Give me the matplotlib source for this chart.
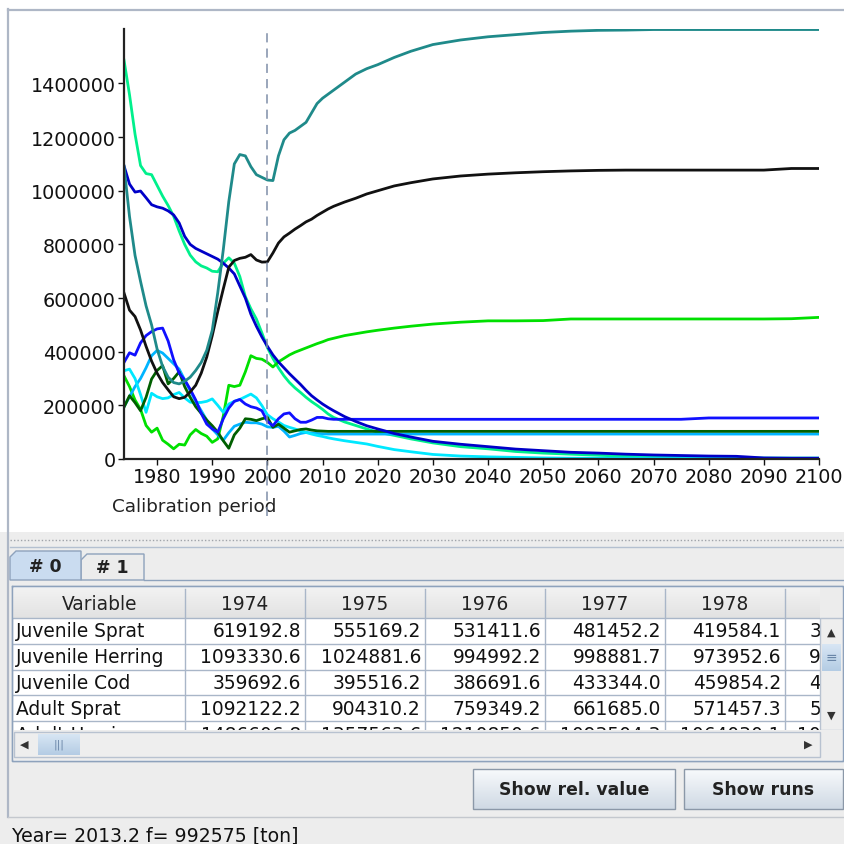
import matplotlib
matplotlib.use("Agg")
import matplotlib.pyplot as plt
import numpy as np
from matplotlib.patches import Rectangle, Polygon
from matplotlib.transforms import blended_transform_factory
from matplotlib.ticker import FixedLocator, FuncFormatter

plt.rcParams['font.family'] = ['DejaVu Sans']

# ---- chart data (thousand tons) ----
years = list(range(1974, 2013)) + [2014, 2016, 2018, 2020, 2023, 2026, 2030, 2035, 2040, 2045,
                                   2050, 2055, 2060, 2065, 2070, 2075, 2080, 2085, 2090, 2095, 2100]

adult_herring = [1487, 1358, 1211, 1094, 1064, 1060, 1020, 980, 945, 905,
                 850, 800, 760, 735, 720, 712, 700, 698, 730, 750,
                 730, 680, 605, 560, 522, 470, 415, 375, 340, 310,
                 285, 265, 248, 230, 214, 200, 185, 168, 155,
                 138, 125, 112, 100, 88, 75, 60, 46, 38, 28, 22, 18, 14, 10, 8, 6, 5, 4, 3, 3, 3]
adult_other = [310, 270, 220, 185, 125, 100, 115, 70, 55, 38,
               55, 52, 90, 110, 95, 85, 62, 75, 160, 275,
               270, 275, 325, 385, 375, 372, 360, 343, 362, 375,
               388, 398, 406, 414, 422, 430, 437, 445, 450,
               460, 467, 474, 480, 488, 495, 503, 510, 515, 515, 516, 522, 522, 522, 522, 522, 522, 522, 522, 523, 528]
series_sky = [195, 232, 270, 300, 340, 385, 405, 395, 375, 355,
              335, 295, 255, 215, 180, 145, 112, 90, 70, 98,
              122, 130, 137, 135, 135, 130, 120, 118, 122, 104,
              82, 88, 95, 99, 97, 95, 94, 93, 93] + [93] * 21
series_cyan = [329, 335, 300, 240, 174, 245, 232, 225, 228, 240,
               248, 228, 212, 210, 211, 215, 224, 200, 174, 205,
               215, 222, 232, 242, 228, 199, 165, 150, 138, 125,
               118, 112, 105, 99, 93, 88, 84, 79, 75,
               68, 62, 56, 47, 35, 27, 17, 11, 8, 6, 4, 3, 3, 3, 3, 3, 3, 3, 3, 3, 3]
series_dkgreen = [193, 236, 210, 180, 230, 298, 330, 348, 280, 300,
                  325, 270, 230, 195, 170, 145, 124, 100, 68, 40,
                  90, 115, 150, 148, 143, 150, 155, 118, 130, 115,
                  100, 105, 110, 112, 108, 105, 104, 103, 103] + [103] * 21
juv_cod = [360, 396, 387, 433, 460, 475, 485, 488, 440, 370,
           320, 295, 260, 220, 170, 130, 112, 100, 150, 190,
           215, 222, 205, 195, 190, 180, 140, 124, 150, 168,
           172, 150, 137, 137, 145, 155, 155, 150, 148] + [148] * 16 + [153] * 5
juv_herring = [1093, 1025, 995, 999, 974, 948, 940, 935, 925, 910,
               880, 830, 800, 785, 775, 765, 755, 745, 730, 712,
               690, 645, 600, 540, 495, 455, 420, 388, 362, 340,
               318, 298, 278, 256, 236, 220, 205, 192, 180,
               158, 140, 124, 112, 95, 82, 66, 55, 46, 37, 31, 25, 22, 18, 15, 13, 11, 10, 4, 3, 3]
juv_sprat = [619, 555, 531, 481, 420, 365, 320, 285, 258, 232,
             225, 230, 250, 275, 320, 380, 460, 550, 634, 715,
             740, 748, 752, 762, 742, 734, 735, 768, 805, 828,
             842, 857, 870, 884, 894, 908, 920, 932, 942,
             958, 972, 988, 1000, 1018, 1030, 1044, 1055, 1062, 1067, 1071, 1074, 1076, 1077,
             1077, 1077, 1077, 1077, 1077, 1083, 1083]
adult_sprat = [1092, 904, 759, 662, 571, 500, 410, 345, 305, 285,
               280, 290, 305, 330, 360, 405, 480, 620, 780, 960,
               1100, 1135, 1130, 1090, 1060, 1050, 1040, 1038, 1130, 1190,
               1215, 1225, 1240, 1255, 1290, 1325, 1345, 1360, 1375,
               1405, 1435, 1455, 1470, 1497, 1520, 1545, 1562, 1574, 1582, 1590, 1595, 1598, 1599,
               1601, 1601, 1601, 1601, 1601, 1601, 1601]

series = [adult_herring, adult_other, series_sky, series_cyan, series_dkgreen,
          juv_cod, juv_herring, juv_sprat, adult_sprat]
colors = ['#00f08c', '#00e000', '#00b4ff', '#00e8ff', '#005f00',
          '#1010ff', '#0000c8', '#111111', '#1f8a8a']

calibration_end = 2000
y_ticks = [0, 200000, 400000, 600000, 800000, 1000000, 1200000, 1400000]
x_ticks = list(range(1980, 2101, 10))

# ---- table data ----
table_cols = ['Variable', '1974', '1975', '1976', '1977', '1978', '1979']
table_rows = ['Juvenile Sprat', 'Juvenile Herring', 'Juvenile Cod', 'Adult Sprat', 'Adult Herring']
table_vals = [
    [619192.8, 555169.2, 531411.6, 481452.2, 419584.1, 365000.0],
    [1093330.6, 1024881.6, 994992.2, 998881.7, 973952.6, 948000.0],
    [359692.6, 395516.2, 386691.6, 433344.0, 459854.2, 475000.0],
    [1092122.2, 904310.2, 759349.2, 661685.0, 571457.3, 500000.0],
    [1486606.8, 1357563.6, 1210850.6, 1093504.3, 1064030.1, 1060000.0],
]
status_text = 'Year= 2013.2 f= 992575 [ton]'

W = 845
fig = plt.figure(figsize=(W / 100, W / 100), dpi=100)

# full-figure overlay in pixel coordinates for the surrounding UI
ui = fig.add_axes([0, 0, 1, 1])
ui.set_zorder(0)
ui.axis('off')


def box(x0, y0, x1, y1, fc, ec='none', lw=1.0, z=1):
    ui.add_patch(Rectangle((x0, y0), x1 - x0, y1 - y0, facecolor=fc, edgecolor=ec, lw=lw, zorder=z))


def gradient(x0, y0, x1, y1, c_top, c_bot, z=1):
    g = np.linspace(0, 1, 64)[:, None, None]
    top = np.array(matplotlib.colors.to_rgb(c_top))
    bot = np.array(matplotlib.colors.to_rgb(c_bot))
    img = top * (1 - g) + bot * g
    ui.imshow(img, extent=(x0, x1, y1, y0), aspect='auto', zorder=z, interpolation='bilinear')


# lower gray region and chart panel border
box(0, 533, W, W, '#ededed', z=0)
ui.plot([8, W], [10.5, 10.5], color='#aeb7c6', lw=1.6, zorder=2)
ui.plot([8.5, 8.5], [10, 818], color='#aeb7c6', lw=1.6, zorder=2)
ui.plot([10, W], [541, 541], color='#a0a4aa', lw=1, ls=(0, (1, 1.5)), zorder=2)
ui.plot([10, W], [548, 548], color='#b4c0d0', lw=1, zorder=2)

# tabs
ui.add_patch(Polygon([(10, 581), (10, 558), (16, 552), (81, 552), (81, 581)], closed=True,
                     facecolor='#cadcf0', edgecolor='#8ea2bc', lw=1, zorder=3))
ui.add_patch(Polygon([(81, 581), (81, 561), (87, 555), (144, 555), (144, 581)], closed=True,
                     facecolor='#ececec', edgecolor='#8ea2bc', lw=1, zorder=2))
ui.plot([144, W], [581, 581], color='#8ea2bc', lw=1, zorder=2)
ui.text(45, 567, '# 0', ha='center', va='center', fontsize=12.5, fontweight='bold', color='#222222', zorder=4)
ui.text(112, 568, '# 1', ha='center', va='center', fontsize=12.5, fontweight='bold', color='#222222', zorder=4)

# table
col_edges = [14, 185, 305, 425, 545, 665, 785, 902]
header_top, header_bot = 589, 619
row_h = 25.8
tfs = 13.4
box(12, 587, 843, 762, '#ffffff', ec='#8ea2bc', lw=1, z=1)
gradient(13, header_top, 820, header_bot, '#f2f2f2', '#e2e2e2', z=2)
for cx in col_edges[1:-1]:
    ui.plot([cx, cx], [header_top + 1, 731], color='#a9b6c8', lw=1, zorder=3)
ui.plot([13, 820], [header_bot, header_bot], color='#a9b6c8', lw=1, zorder=3)
for i, name in enumerate(table_cols):
    x0, x1 = col_edges[i], col_edges[i + 1]
    ui.text((x0 + x1) / 2, 605, name, ha='center', va='center', fontsize=tfs, color='#222222', zorder=3)
for r, name in enumerate(table_rows):
    yc = header_bot + row_h * (r + 0.5)
    ui.plot([13, 820], [header_bot + row_h * (r + 1)] * 2, color='#a9b6c8', lw=1, zorder=3)
    ui.text(16, yc, name, ha='left', va='center', fontsize=tfs, color='#111111', zorder=3)
    for c, v in enumerate(table_vals[r]):
        ui.text(col_edges[c + 2] - 4, yc, f'{v:.1f}', ha='right', va='center', fontsize=tfs,
                color='#111111', zorder=3)

# header corner above the vertical scrollbar, right edge strip
box(820, header_top, 843, header_bot, '#ececec', z=6)
box(843, header_top - 1, W, 762, '#ededed', z=6)

# vertical scrollbar
box(820, header_bot, 843, 731, '#eeeeee', ec='#b8c2d0', lw=1, z=6)
gradient(822, 645, 841, 672, '#d8e6f4', '#b4cce4', z=7)
ui.text(831, 633, '▲', ha='center', va='center', fontsize=8, color='#333333', zorder=8)
ui.text(831, 658, '≡', ha='center', va='center', fontsize=10, color='#6a86a8', zorder=8)
ui.text(831, 716, '▼', ha='center', va='center', fontsize=8, color='#333333', zorder=8)

# horizontal scrollbar
box(13, 731, 843, 761, '#ededed', z=6)
box(14, 733, 820, 758, '#eeeeee', ec='#b8c2d0', lw=1, z=6)
gradient(38, 735, 80, 756, '#d8e6f4', '#b4cce4', z=7)
ui.text(24, 745, '◀', ha='center', va='center', fontsize=8, color='#333333', zorder=8)
ui.text(59, 745, '|||', ha='center', va='center', fontsize=8, color='#6a86a8', zorder=8)
ui.text(808, 745, '▶', ha='center', va='center', fontsize=8, color='#333333', zorder=8)
ui.plot([12, 843, 843, 12, 12], [587, 587, 762, 762, 587], color='#8ea2bc', lw=1, zorder=8)

# buttons
for x0, x1, label in [(473, 675, 'Show rel. value'), (684, 843, 'Show runs')]:
    gradient(x0, 770, x1, 810, '#f8fafc', '#cfd9e4', z=2)
    box(x0, 770, x1, 810, 'none', ec='#8b98a8', lw=1, z=3)
    ui.text((x0 + x1) / 2, 790, label, ha='center', va='center', fontsize=12.4, fontweight='bold',
            color='#222222', zorder=4)
ui.plot([8, W], [818, 818], color='#c4c8ce', lw=1, zorder=2)

ui.text(12, 836, status_text, ha='left', va='center', fontsize=13.6, color='#111111', zorder=3)
ui.text(112, 507, 'Calibration period', ha='left', va='center', fontsize=13.2, color='#222222', zorder=3)

ui.set_xlim(0, W)
ui.set_ylim(W, 0)

# ---- chart ----
ax = fig.add_axes([124 / W, 1 - 460 / W, 695 / W, 430 / W])
ax.set_zorder(1)
ax.patch.set_visible(False)

for vals, col in zip(series, colors):
    ax.plot(years, np.array(vals) * 1000, color=col, lw=2.0, solid_joinstyle='round')

trans = blended_transform_factory(ax.transData, ax.transAxes)
ax.plot([calibration_end, calibration_end], [-0.133, 1.0], transform=trans, clip_on=False,
        color='#7f8ea8', lw=1.1, ls=(0, (6, 4)), zorder=5)

ax.set_xlim(1974, 2100)
ax.set_ylim(0, 1603000)
ax.yaxis.set_major_locator(FixedLocator(y_ticks))
ax.xaxis.set_major_locator(FixedLocator(x_ticks))
ax.yaxis.set_major_formatter(FuncFormatter(lambda v, p: str(int(v))))
ax.xaxis.set_major_formatter(FuncFormatter(lambda v, p: str(int(v))))
ax.tick_params(axis='both', direction='out', length=4, width=1, labelsize=13.8, pad=2, colors='#111111')
for side in ['top', 'right']:
    ax.spines[side].set_visible(False)
for side in ['left', 'bottom']:
    ax.spines[side].set_linewidth(1.6)
    ax.spines[side].set_color('#222222')

fig.savefig('out.png', dpi=100)
